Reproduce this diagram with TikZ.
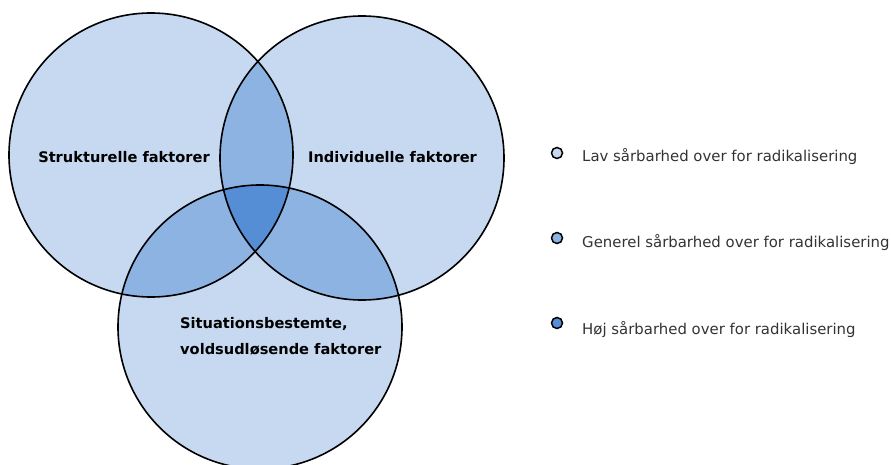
\documentclass[tikz,border=0pt]{standalone}
\usepackage{fontspec}
\setmainfont{DejaVu Sans}
\definecolor{lowc}{HTML}{C6D9F0}
\definecolor{midc}{HTML}{8DB3E2}
\definecolor{highc}{HTML}{558ED5}
\begin{document}
\begin{tikzpicture}[x=1pt,y=-1pt,
  setcircle/.style={circle,draw=black,line width=1.6pt,minimum size=284pt,inner sep=0pt},
  lbl/.style={font=\bfseries\fontsize{14.6}{26}\selectfont,align=left,inner sep=0pt},
  legdot/.style={circle,draw=black,line width=1.5pt,minimum size=11pt,inner sep=0pt},
  legtxt/.style={anchor=west,font=\fontsize{14.9}{18}\selectfont,text=black!80,inner sep=0pt}]
\useasboundingbox (0,0) rectangle (891,465);
\coordinate (cA) at (151,155);
\coordinate (cB) at (362,158);
\coordinate (cC) at (260,327);
% base fills
\fill[lowc] (cA) circle (142);
\fill[lowc] (cB) circle (142);
\fill[lowc] (cC) circle (142);
% pairwise intersections
\begin{scope}\clip (cA) circle (142); \fill[midc] (cB) circle (142); \fill[midc] (cC) circle (142);\end{scope}
\begin{scope}\clip (cB) circle (142); \fill[midc] (cC) circle (142);\end{scope}
% triple
\begin{scope}\clip (cA) circle (142); \clip (cB) circle (142); \fill[highc] (cC) circle (142);\end{scope}
% outlines
\node[setcircle] (A) at (cA) {};
\node[setcircle] (B) at (cB) {};
\node[setcircle] (C) at (cC) {};
% labels
\node[lbl] (lA) at (124,157) {Strukturelle faktorer};
\node[lbl] (lB) at (392.5,157) {Individuelle faktorer};
\node[lbl,anchor=west] (lC) at (180,336) {Situationsbestemte,\\voldsudløsende faktorer};
% legend
\node[legdot,fill=lowc] (d1) at (557,153) {};
\node[legdot,fill=midc] (d2) at (557,238) {};
\node[legdot,fill=highc] (d3) at (557,323) {};
\node[legtxt] (t1) at (582,157) {Lav sårbarhed over for radikalisering};
\node[legtxt] (t2) at (582,243) {Generel sårbarhed over for radikalisering};
\node[legtxt] (t3) at (582,330) {Høj sårbarhed over for radikalisering};
\end{tikzpicture}
\end{document}
